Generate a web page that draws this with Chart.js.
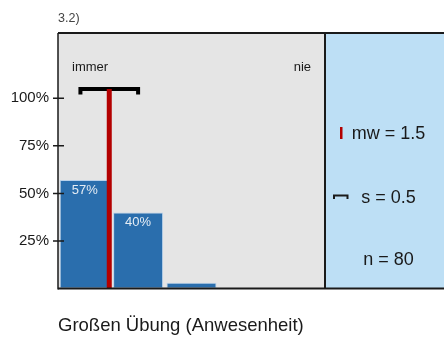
<!DOCTYPE html>
<html>
<head>
<meta charset="utf-8">
<script src="https://cdn.jsdelivr.net/npm/chart.js@4/dist/chart.umd.min.js"></script>
<style>
    body { margin: 0; background: #fff; }
    #wrap { position: relative; width: 444px; height: 338px; font-family: "Liberation Sans", Arial, sans-serif; }
    #wrap .txt { position: absolute; white-space: nowrap; }
    #title { left: 58px; top: 12px; font-size: 12.5px; line-height: 12.5px; color: #444; }
    #caption { left: 58px; top: 316px; font-size: 18.5px; line-height: 18.5px; color: #1a1a1a; }
</style>
</head>
<body>
<div id="wrap">
    <canvas id="hist-chart" width="444" height="338"></canvas>
    <div id="title" class="txt">3.2)</div>
    <div id="caption" class="txt">Großen Übung (Anwesenheit)</div>
</div>
<script>
// answer scale 1..5, "immer" .. "nie"
const categories = [1, 2, 3, 4, 5];
const endLabels = ['immer', 'nie'];
const shares = [57, 40, 3, 0, 0];     // percent of answers
const yTicks = [25, 50, 75, 100];
const mean = 1.46;
const sd = 0.54;
const count = 80;

const FONT = '"Liberation Sans", Arial, sans-serif';
const BAR_BLUE = '#2a6ead';
const MEAN_RED = '#b30000';

// gray plot area + blue info panel behind everything
const panelBackground = {
    id: 'panelBackground',
    beforeDraw(chart) {
        const { ctx, chartArea: a, width } = chart;
        ctx.save();
        ctx.fillStyle = '#e5e5e5';
        ctx.fillRect(a.left, a.top, a.right - a.left, a.bottom - a.top);
        ctx.fillStyle = '#bddff5';
        ctx.fillRect(a.right, a.top, width - a.right, a.bottom - a.top);
        ctx.restore();
    }
};

// value labels inside the bars
const barValues = {
    id: 'barValues',
    afterDatasetsDraw(chart) {
        const { ctx } = chart;
        const meta = chart.getDatasetMeta(2);
        ctx.save();
        ctx.font = '13px ' + FONT;
        ctx.fillStyle = '#e4ecf4';
        ctx.textAlign = 'center';
        ctx.textBaseline = 'middle';
        meta.data.forEach((bar, i) => {
            if (shares[i] >= 10) ctx.fillText(shares[i] + '%', bar.x, bar.y + 10);
        });
        ctx.restore();
    }
};

// frame, y tick marks, scale end labels and the info panel text
const frameAndPanel = {
    id: 'frameAndPanel',
    afterDraw(chart) {
        const { ctx, chartArea: a, width } = chart;
        const y = chart.scales.y;
        ctx.save();

        ctx.strokeStyle = '#1a1a1a';
        ctx.lineWidth = 2;
        ctx.beginPath();
        ctx.moveTo(a.left, a.top); ctx.lineTo(width, a.top);
        ctx.moveTo(a.right, a.top); ctx.lineTo(a.right, a.bottom);
        ctx.moveTo(a.left, a.bottom); ctx.lineTo(width, a.bottom);
        ctx.stroke();
        ctx.lineWidth = 1.5;
        ctx.beginPath();
        ctx.moveTo(a.left, a.top); ctx.lineTo(a.left, a.bottom + 1);
        yTicks.forEach(v => {
            const py = y.getPixelForValue(v);
            ctx.moveTo(a.left - 5, py); ctx.lineTo(a.left + 6, py);
        });
        ctx.stroke();

        ctx.fillStyle = '#1a1a1a';
        ctx.font = '13px ' + FONT;
        ctx.textBaseline = 'middle';
        ctx.textAlign = 'left';
        ctx.fillText(endLabels[0], a.left + 14, 67);
        ctx.textAlign = 'right';
        ctx.fillText(endLabels[1], a.right - 14, 67);

        // info panel
        const px = a.right;
        const cx = px + 63.5;
        ctx.fillStyle = MEAN_RED;
        ctx.fillRect(px + 15, 127, 2.5, 12);

        ctx.strokeStyle = '#1a1a1a';
        ctx.lineWidth = 2;
        ctx.beginPath();
        ctx.moveTo(px + 9, 199);
        ctx.lineTo(px + 9, 195.5);
        ctx.lineTo(px + 22.5, 195.5);
        ctx.lineTo(px + 22.5, 199);
        ctx.stroke();

        ctx.fillStyle = '#1a1a1a';
        ctx.font = '18px ' + FONT;
        ctx.textAlign = 'center';
        ctx.textBaseline = 'middle';
        ctx.fillText('mw = ' + mean.toFixed(1), cx, 134);
        ctx.fillText('s = ' + sd.toFixed(1), cx, 198);
        ctx.fillText('n = ' + count, cx, 260);
        ctx.restore();
    }
};

const ctx = document.getElementById('hist-chart');
new Chart(ctx, {
    type: 'bar',
    data: {
        datasets: [
            {
                // mean marker
                type: 'line',
                data: [{ x: mean, y: 0 }, { x: mean, y: 104.8 }],
                borderColor: MEAN_RED,
                borderWidth: 5,
                pointRadius: 0,
                order: 0
            },
            {
                // standard deviation bracket
                type: 'line',
                data: [
                    { x: mean - sd, y: 103 },
                    { x: mean - sd, y: 104.8 },
                    { x: mean + sd, y: 104.8 },
                    { x: mean + sd, y: 103 }
                ],
                borderColor: '#000',
                borderWidth: 4,
                borderCapStyle: 'square',
                borderJoinStyle: 'miter',
                tension: 0,
                pointRadius: 0,
                order: 0
            },
            {
                data: categories.map((c, i) => ({ x: c, y: shares[i] })),
                backgroundColor: BAR_BLUE,
                borderColor: 'rgba(175, 205, 235, 0.8)',
                borderWidth: c => (c.raw && c.raw.y > 0 ? 1 : 0),
                borderSkipped: false,
                barPercentage: 0.936,
                categoryPercentage: 1,
                order: 1
            }
        ]
    },
    options: {
        responsive: false,
        devicePixelRatio: 1,
        animation: false,
        layout: { padding: { top: 33, bottom: 49.5, left: 0, right: 119 } },
        plugins: {
            legend: { display: false },
            tooltip: { enabled: false }
        },
        scales: {
            x: {
                type: 'linear',
                min: 0.5,
                max: 5.5,
                offset: false,
                display: false
            },
            y: {
                min: 0,
                max: 134.3,
                afterBuildTicks: s => { s.ticks = yTicks.map(v => ({ value: v })); },
                afterFit: s => { s.width = 58; },
                grid: { display: false, drawTicks: false },
                border: { display: false },
                ticks: {
                    padding: 9,
                    color: '#1a1a1a',
                    font: { size: 15, family: FONT },
                    callback: v => v + '%'
                }
            }
        }
    },
    plugins: [panelBackground, barValues, frameAndPanel]
});
</script>
</body>
</html>
